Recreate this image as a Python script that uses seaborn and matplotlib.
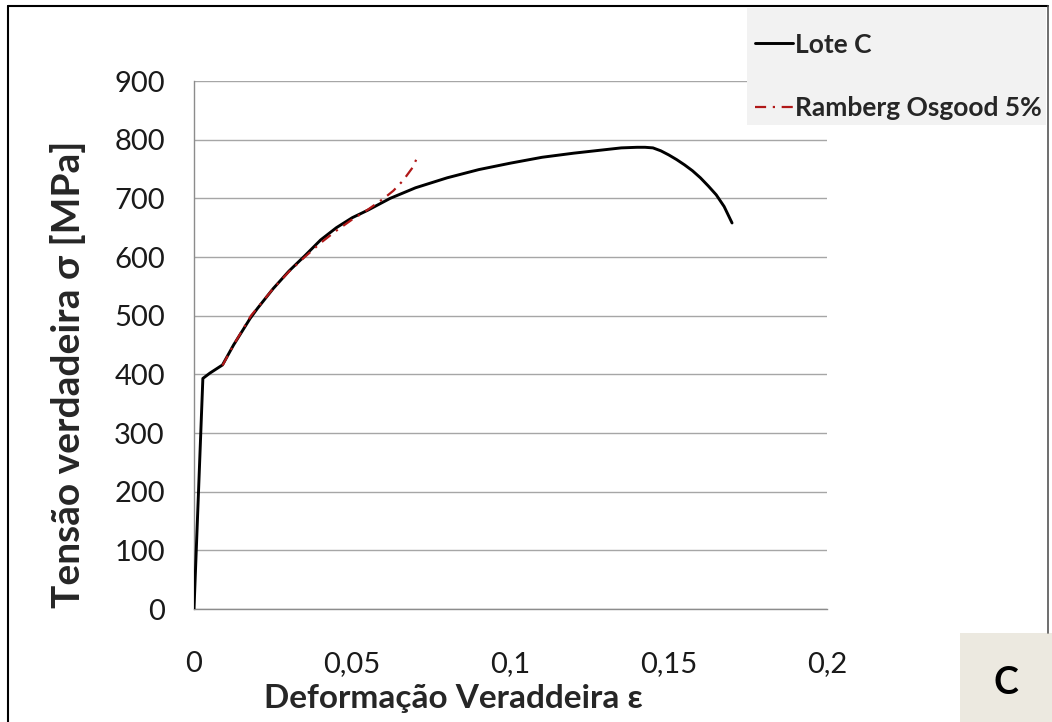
import matplotlib
matplotlib.use("Agg")
import matplotlib.pyplot as plt
import seaborn as sns
import pandas as pd
from matplotlib.patches import Rectangle
from matplotlib.lines import Line2D

# Data
lote_strain = [0.0, 0.0028, 0.005, 0.009, 0.0125, 0.0177, 0.020, 0.025, 0.030, 0.035,
               0.040, 0.045, 0.050, 0.055, 0.062, 0.070, 0.080, 0.090, 0.100, 0.110,
               0.120, 0.125, 0.130, 0.135, 0.140, 0.1425, 0.145, 0.1475, 0.150, 0.1525,
               0.155, 0.1575, 0.160, 0.1625, 0.165, 0.1675, 0.170]
lote_stress = [0, 393, 402, 416, 450, 495, 512, 546, 576, 602,
               629, 650, 667, 680, 700, 718, 735, 749, 760, 770,
               777, 780, 783, 786, 787, 787, 786, 781, 774, 766,
               757, 747, 735, 721, 706, 686, 658]
ro_strain = [0.009, 0.0125, 0.018, 0.025, 0.030, 0.035, 0.040, 0.045, 0.050, 0.055,
             0.060, 0.063, 0.066, 0.069, 0.071]
ro_stress = [415, 450, 500, 546, 575, 600, 624, 645, 664, 681,
             700, 713, 730, 752, 775]
x_ticks = [0, 0.05, 0.1, 0.15, 0.2]
x_ticklabels = ["0", "0,05", "0,1", "0,15", "0,2"]
y_ticks = [0, 100, 200, 300, 400, 500, 600, 700, 800, 900]

sns.set_style("white")
plt.rcParams['font.family'] = ['Lato', 'DejaVu Sans']

fig = plt.figure(figsize=(10.52, 7.22), dpi=100)
ax = fig.add_axes([194/1052, 1-609/722, (827-194)/1052, (609-81)/722])

df_lote = pd.DataFrame({"strain": lote_strain, "stress": lote_stress})
df_ro = pd.DataFrame({"strain": ro_strain, "stress": ro_stress})

sns.lineplot(data=df_lote, x="strain", y="stress", sort=False, ax=ax,
             color="black", linewidth=2.1, zorder=3)
sns.lineplot(data=df_ro, x="strain", y="stress", sort=False, ax=ax,
             color="#b01818", linewidth=1.6, linestyle=(0, (5, 3, 1, 3)), zorder=4)

ax.set_xlim(0, 0.2)
ax.set_ylim(0, 900)
ax.set_xticks(x_ticks)
ax.set_xticklabels(x_ticklabels)
ax.set_yticks(y_ticks)
ax.grid(axis="y", color="#a6a6a6", linewidth=1.0)
ax.grid(axis="x", visible=False)
for s in ["top", "right"]:
    ax.spines[s].set_visible(False)
for s in ["left", "bottom"]:
    ax.spines[s].set_color("#8c8c8c")
    ax.spines[s].set_linewidth(1.0)
ax.tick_params(axis="both", direction="out", length=8, width=1.0, color="#8c8c8c",
               labelsize=21, labelcolor="#1a1a1a")
ax.tick_params(axis="x", pad=22)
ax.tick_params(axis="y", pad=13)
ax.set_xlabel("Deformação Veraddeira ε", fontsize=24, fontweight="bold")
ax.set_ylabel("Tensão verdadeira σ [MPa]", fontsize=28, fontweight="bold")
ax.xaxis.set_label_coords((453-194)/633, (609-684)/528)
ax.yaxis.set_label_coords((86-194)/633, (609-374)/528)

# Legend box (grey background)
fig.patches.append(Rectangle((747/1052, 1-125/722), (1046-747)/1052, (125-8)/722,
                             transform=fig.transFigure, facecolor="#f2f2f2",
                             edgecolor="none", zorder=0))
handles = [Line2D([], [], color="black", linewidth=2.1),
           Line2D([], [], color="#b01818", linewidth=1.6, linestyle=(0, (5, 3, 1, 3)))]
leg = fig.legend(handles, ["Lote C", "Ramberg Osgood 5%"], loc="upper left",
                 bbox_to_anchor=(744/1052, 1-22/722), frameon=False,
                 prop={"family": ["Lato", "DejaVu Sans"], "weight": "bold", "size": 19},
                 handlelength=1.45, handletextpad=0.1, labelspacing=1.5, borderaxespad=0)

# Outer border
fig.add_artist(Line2D([8/1052, 8/1052], [0, 1-6/722], transform=fig.transFigure,
                      color="black", linewidth=1.5))
fig.add_artist(Line2D([8/1052, 1048/1052], [1-6/722, 1-6/722], transform=fig.transFigure,
                      color="black", linewidth=1.5))
fig.add_artist(Line2D([1048/1052, 1048/1052], [1-633/722, 1-6/722], transform=fig.transFigure,
                      color="#555555", linewidth=1.2))

# Panel label box "C"
fig.patches.append(Rectangle((960/1052, 0), (1052-960)/1052, (722-633)/722,
                             transform=fig.transFigure, facecolor="#ece9e0",
                             edgecolor="none", zorder=1))
fig.text(1006/1052, 1-683/722, "C", fontsize=27, fontweight="bold",
         ha="center", va="center", color="black")

fig.savefig("out.png", dpi=100, facecolor="white")
